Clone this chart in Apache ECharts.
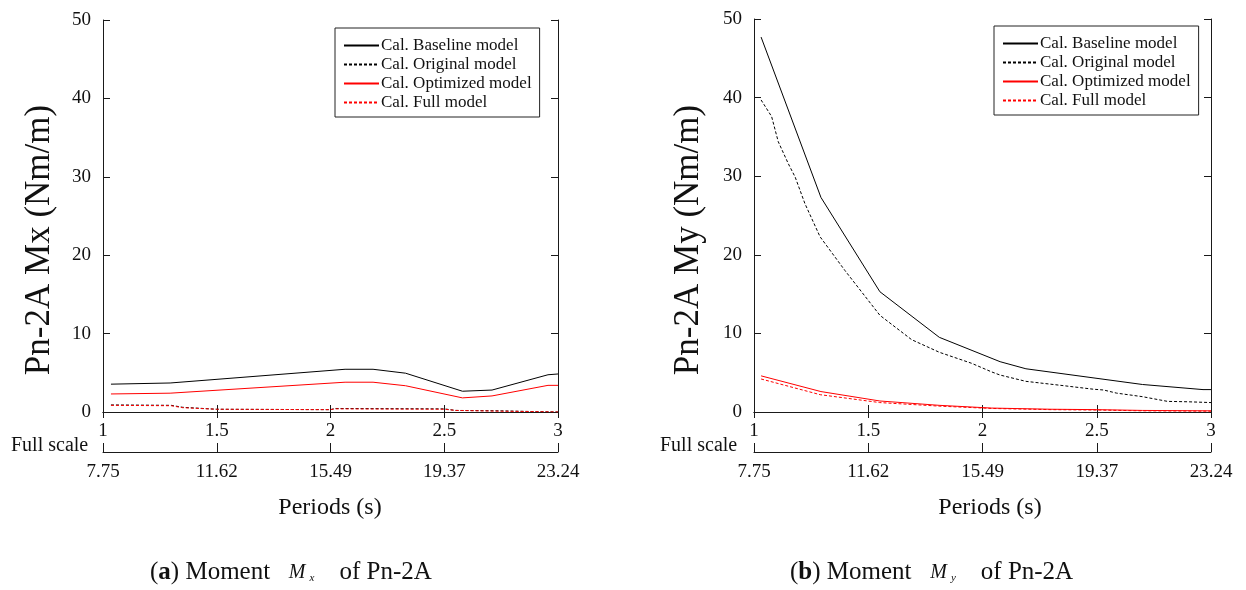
<!DOCTYPE html>
<html>
<head>
<meta charset="utf-8">
<script src="https://cdn.jsdelivr.net/npm/echarts@6/dist/echarts.min.js"></script>
<style>
html,body{margin:0;padding:0;background:#fff;}
#chart{width:1246px;height:590px;}
</style>
</head>
<body>
<div id="chart"></div>
<script>
// ---- data ----
var seriesNames = ['Cal. Baseline model', 'Cal. Original model', 'Cal. Optimized model', 'Cal. Full model'];
var periodTicks = [1, 1.5, 2, 2.5, 3];
var fullScaleLabels = ['7.75', '11.62', '15.49', '19.37', '23.24'];

// (a) Mx
var mxBaselineX = [1.035, 1.295, 2.064, 2.187, 2.33, 2.58, 2.71, 2.956, 3.0];
var mxBaselineY = [3.55, 3.7, 5.45, 5.45, 4.95, 2.65, 2.8, 4.75, 4.85];
var mxOriginalX = [1.035, 1.3, 1.35, 1.5, 2.0, 2.02, 2.5, 2.55, 2.75, 2.9, 3.0];
var mxOriginalY = [0.9, 0.85, 0.6, 0.35, 0.3, 0.45, 0.4, 0.2, 0.15, 0.05, 0.0];
var mxOptimizedX = [1.035, 1.295, 2.064, 2.187, 2.33, 2.58, 2.71, 2.956, 3.0];
var mxOptimizedY = [2.3, 2.4, 3.8, 3.8, 3.35, 1.8, 2.05, 3.4, 3.4];
var mxFullX = [1.035, 1.3, 1.35, 1.5, 2.0, 2.02, 2.5, 2.55, 2.75, 2.9, 3.0];
var mxFullY = [0.85, 0.8, 0.55, 0.35, 0.3, 0.4, 0.35, 0.2, 0.1, 0.05, 0.0];

// (b) My
var myBaselineX = [1.031, 1.293, 1.551, 1.811, 2.077, 2.19, 2.70, 2.965, 3.0];
var myBaselineY = [47.7, 27.3, 15.3, 9.5, 6.4, 5.5, 3.5, 2.85, 2.85];
var myOriginalX = [1.031, 1.077, 1.106, 1.15, 1.18, 1.223, 1.289, 1.398, 1.551, 1.69, 1.811, 1.952, 2.04, 2.077, 2.19, 2.34, 2.485, 2.53, 2.587, 2.70, 2.81, 2.9, 3.0];
var myOriginalY = [39.7, 37.6, 34.4, 31.6, 29.9, 26.5, 22.3, 18.0, 12.3, 9.2, 7.6, 6.2, 5.1, 4.7, 3.9, 3.4, 2.9, 2.8, 2.4, 1.95, 1.35, 1.3, 1.2];
var myOptimizedX = [1.031, 1.293, 1.551, 1.81, 2.04, 2.3, 2.5, 2.7, 3.0];
var myOptimizedY = [4.6, 2.6, 1.4, 0.85, 0.5, 0.35, 0.3, 0.2, 0.15];
var myFullX = [1.031, 1.29, 1.55, 1.81, 2.04, 2.3, 2.5, 2.7, 3.0];
var myFullY = [4.2, 2.2, 1.2, 0.75, 0.45, 0.3, 0.25, 0.15, 0.1];

// ---- build ----
function pairs(xs, ys) { return xs.map(function (x, i) { return [x, ys[i]]; }); }
var FONT = "'Liberation Serif', 'Times New Roman', serif";
var AX = '#1a1a1a';

var chart = echarts.init(document.getElementById('chart'), null, { renderer: 'canvas' });

function xAxes(gi) {
  var base = { gridIndex: gi, type: 'value', min: 1, max: 3, interval: 0.5,
    axisLine: { show: true, lineStyle: { color: AX, width: 1 } },
    splitLine: { show: false } };
  return [
    Object.assign({}, base, { position: 'bottom',
      axisTick: { show: true, inside: true, length: 7, lineStyle: { color: AX } },
      axisLabel: { show: true, margin: 10, color: '#111', fontFamily: FONT, fontSize: 19 } }),
    Object.assign({}, base, { position: 'top',
      axisTick: { show: true, inside: true, length: 6, lineStyle: { color: AX } },
      axisLabel: { show: false } }),
    Object.assign({}, base, { position: 'bottom', offset: 40,
      axisTick: { show: true, inside: true, length: 9, lineStyle: { color: AX } },
      axisLabel: { show: true, margin: 11, color: '#111', fontFamily: FONT, fontSize: 19,
        formatter: function (v) { var i = periodTicks.indexOf(v); return i >= 0 ? fullScaleLabels[i] : ''; } } })
  ];
}
function yAxes(gi) {
  var base = { gridIndex: gi, type: 'value', min: 0, max: 50, interval: 10,
    axisLine: { show: true, lineStyle: { color: AX, width: 1 } },
    splitLine: { show: false } };
  return [
    Object.assign({}, base, { position: 'left',
      axisTick: { show: true, inside: true, length: 7, lineStyle: { color: AX } },
      axisLabel: { show: true, margin: 12, color: '#111', fontFamily: FONT, fontSize: 19 } }),
    Object.assign({}, base, { position: 'right',
      axisTick: { show: true, inside: true, length: 7, lineStyle: { color: AX } },
      axisLabel: { show: false } })
  ];
}

var styles = [
  { color: '#000', type: 'solid' },
  { color: '#000', type: [3, 2] },
  { color: '#ff0000', type: 'solid' },
  { color: '#ff0000', type: [3, 2] }
];
function mkSeries(gi, datasets) {
  return datasets.map(function (d, i) {
    return { name: seriesNames[i], type: 'line', xAxisIndex: gi * 3, yAxisIndex: gi * 2,
      data: d, symbol: 'none', smooth: false, silent: true,
      lineStyle: { color: styles[i].color, width: 1, type: styles[i].type },
      itemStyle: { color: styles[i].color } };
  });
}
function legend(left, top) {
  return { data: seriesNames, orient: 'vertical', left: left, top: top,
    backgroundColor: '#fff', borderColor: '#222', borderWidth: 1,
    padding: [9, 8, 6, 8], itemWidth: 35, itemHeight: 14, itemGap: 2,
    itemStyle: { opacity: 0, color: 'rgba(0,0,0,0)', borderWidth: 0 },
    textStyle: { fontFamily: FONT, fontSize: 17, color: '#111', padding: [0, 0, 0, -3] } };
}
function caption(x, letter, sub) {
  return { type: 'text', left: x, top: 560, style: {
    text: '{p|(}{b|' + letter + '}{p|) Moment   }{m|M}{s|' + sub + '}{p|    of Pn-2A}',
    rich: {
      p: { fontFamily: FONT, fontSize: 25, fill: '#111' },
      b: { fontFamily: FONT, fontSize: 25, fontWeight: 'bold', fill: '#111' },
      m: { fontFamily: FONT, fontSize: 20, fontStyle: 'italic', fill: '#111' },
      s: { fontFamily: FONT, fontSize: 11, fontStyle: 'italic', fill: '#111', padding: [12, 0, 0, 4] }
    } } };
}
function txt(x, y, s, size, align) {
  return { type: 'text', x: x, y: y, style: { text: s, fontFamily: FONT, fontSize: size, fill: '#111',
    textAlign: align || 'left', textVerticalAlign: 'middle' } };
}
function vtxt(x, y, s, size) {
  return { type: 'text', x: x, y: y, rotation: Math.PI / 2, style: { text: s, fontFamily: FONT, fontSize: size,
    fill: '#111', textAlign: 'center', textVerticalAlign: 'middle' } };
}

var option = {
  backgroundColor: '#fff',
  animation: false,
  grid: [
    { left: 103, top: 20, width: 455, height: 392 },
    { left: 754, top: 19, width: 457, height: 393 }
  ],
  xAxis: xAxes(0).concat(xAxes(1)),
  yAxis: yAxes(0).concat(yAxes(1)),
  legend: [legend(335, 28), legend(994, 26)],
  series: mkSeries(0, [pairs(mxBaselineX, mxBaselineY), pairs(mxOriginalX, mxOriginalY),
                       pairs(mxOptimizedX, mxOptimizedY), pairs(mxFullX, mxFullY)])
    .concat(mkSeries(1, [pairs(myBaselineX, myBaselineY), pairs(myOriginalX, myOriginalY),
                         pairs(myOptimizedX, myOptimizedY), pairs(myFullX, myFullY)])),
  graphic: [
    vtxt(40, 240, 'Pn-2A Mx (Nm/m)', 35),
    vtxt(689, 240, 'Pn-2A My (Nm/m)', 35),
    txt(11, 446, 'Full scale', 20),
    txt(660, 446, 'Full scale', 20),
    txt(330, 508, 'Periods (s)', 24, 'center'),
    txt(990, 508, 'Periods (s)', 24, 'center'),
    caption(150, 'a', 'x'),
    caption(790, 'b', 'y')
  ]
};
chart.setOption(option);
</script>
</body>
</html>
